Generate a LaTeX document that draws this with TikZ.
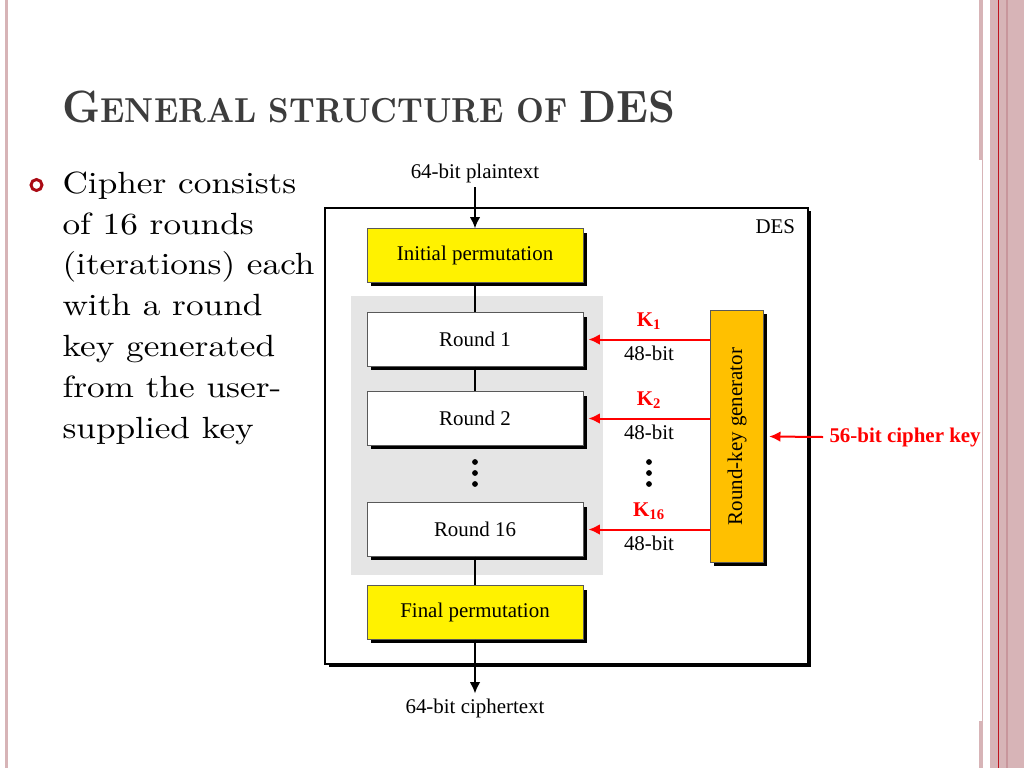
\documentclass[tikz,border=0pt]{standalone}
\usepackage{fontspec}
\usepackage{graphicx}
\setmainfont{Liberation Serif}
\newfontfamily\slidefont{lmroman10-regular.otf}[FakeStretch=1.15]
\newfontfamily\titlefont{lmroman10-bold.otf}[FakeStretch=0.93]
\usetikzlibrary{arrows.meta,shadows}

\definecolor{bandpink}{RGB}{215,180,183}
\definecolor{banddark}{RGB}{200,150,156}
\definecolor{bandred}{RGB}{190,20,30}
\definecolor{bulletred}{RGB}{170,10,20}
\definecolor{titlegray}{RGB}{60,60,60}
\definecolor{keyorange}{RGB}{255,192,0}
\definecolor{areagray}{RGB}{229,229,229}

\tikzset{every picture/.style={line width=0.75pt}}
\tikzset{
  boxshadow/.style={drop shadow={shadow xshift=2.8pt,shadow yshift=-2.8pt,opacity=1,fill=black}},
  txt/.style={font=\fontsize{15.7}{18}\selectfont},
  permbox/.style={txt,draw=gray!70!black,line width=0.6pt,fill=yellow,minimum width=162pt,minimum height=40pt,boxshadow},
  roundbox/.style={permbox,fill=white},
  genbox/.style={txt,draw=gray!70!black,line width=0.6pt,fill=keyorange,minimum width=40pt,minimum height=189pt,boxshadow},
  keylabel/.style={txt,text=red,font=\bfseries\fontsize{15.7}{18}\selectfont},
  conn/.style={black,line width=2pt},
  tip/.style={-{Latex[length=8.5pt,width=8pt]}},
  keyarrow/.style={red,line width=1.5pt,-{Latex[length=8.5pt,width=8pt]}}
}

\begin{document}
\begin{tikzpicture}[x=0.75pt,y=-0.75pt]
\useasboundingbox (0,0) rectangle (1024,768);
\fill [white] (0,0) rectangle (1024,768);
% slide border
\fill [bandpink] (5,0) rectangle (8,768);
\fill [bandpink] (979,0) rectangle (983,160);
\fill [bandpink] (979,721) rectangle (983,768);
\fill [bandpink] (982,160) rectangle (983,721);
\fill [bandpink] (990,0) rectangle (1024,768);
\fill [bandred] (997.8,0) rectangle (999,768);
\fill [banddark] (1006,0) rectangle (1008,768);

% title and bullet text
\node [anchor=base west,inner sep=0pt,text=titlegray] (title) at (62,122)
  {\titlefont{\fontsize{34}{34}\selectfont G}{\fontsize{26}{34}\selectfont ENERAL STRUCTURE OF }{\fontsize{34}{34}\selectfont DES}};
\draw [bulletred,line width=2.2pt] (36.5,185) circle (5.5);
\node [anchor=base west,inner sep=0pt,align=left,font=\slidefont\fontsize{23}{30.6}\selectfont] (body) at (62,438)
  {Cipher consists\\of 16 rounds\\(iterations) each\\with a round\\key generated\\from the user-\\supplied key};

% DES block
\node [draw,line width=1.5pt,fill=white,minimum width=362pt,minimum height=342pt,drop shadow={shadow xshift=2.5pt,shadow yshift=-2.5pt,opacity=1,fill=black}] (des) at (566.5,436) {};
\node [txt,anchor=east] (deslabel) at (800,227) {DES};
\node [fill=areagray,minimum width=189pt,minimum height=209pt] (area) at (477,435.5) {};

\node [txt] (plain) at (475,173) {64-bit plaintext};
\node [permbox] (init) at (475,255.5) {Initial permutation};
\node [roundbox] (r1) at (475,339.5) {Round 1};
\node [roundbox] (r2) at (475,418.5) {Round 2};
\node [roundbox] (r16) at (475,529.5) {Round 16};
\node [permbox] (final) at (475,612.5) {Final permutation};
\node [txt] (cipher) at (475,708) {64-bit ciphertext};
\node [genbox] (gen) at (737,436.5) {\rotatebox{90}{Round-key generator}};

\fill (475,462) circle (2.9) (475,473) circle (2.9) (475,484) circle (2.9);
\fill (649,462) circle (2.9) (649,473) circle (2.9) (649,484) circle (2.9);

\draw [conn,tip] (plain) -- (init);
\draw [conn] (init) -- (r1);
\draw [conn] (r1) -- (r2);
\draw [conn] (r16) -- (final);
\draw [conn,tip] (final) -- (cipher);

% round keys
\draw [keyarrow] (gen.west |- r1.east) -- ([xshift=3.8pt]r1.east);
\draw [keyarrow] (gen.west |- r2.east) -- ([xshift=3.8pt]r2.east);
\draw [keyarrow] (gen.west |- r16.east) -- ([xshift=3.8pt]r16.east);
\node [keylabel] (k1) at (649,321) {K\textsubscript{1}};
\node [txt] (b1) at (649,353) {48-bit};
\node [keylabel] (k2) at (649,400) {K\textsubscript{2}};
\node [txt] (b2) at (649,432) {48-bit};
\node [keylabel] (k16) at (649,511) {K\textsubscript{16}};
\node [txt] (b16) at (649,543) {48-bit};

\node [keylabel,anchor=west,inner xsep=4.5pt] (mainkey) at (823,437) {56-bit cipher key};
\draw [keyarrow] (mainkey.west) -- ([xshift=3.8pt]gen.east);
\end{tikzpicture}
\end{document}
